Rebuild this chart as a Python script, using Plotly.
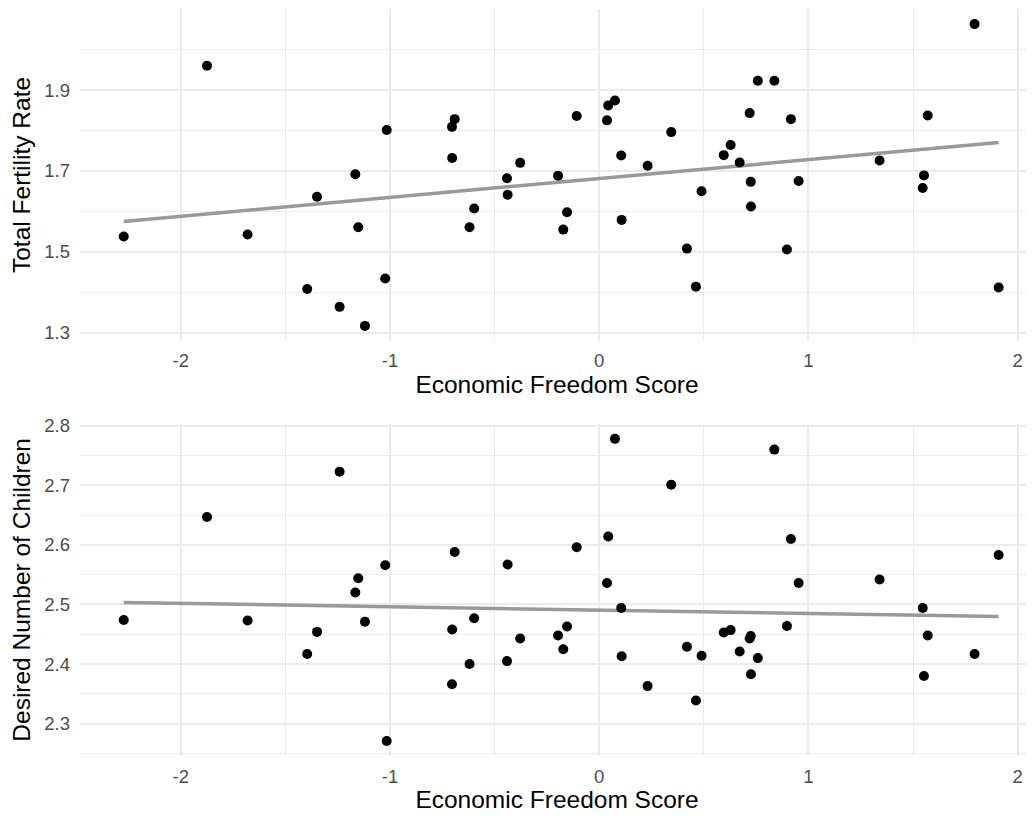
import numpy as np
import plotly.graph_objects as go
from plotly.subplots import make_subplots

# Economic freedom score (same countries in both panels)
econ_freedom = [-2.273, -1.875, -1.681, -1.396, -1.349, -1.241, -1.166, -1.152, -1.120, -1.023,
                -1.016, -0.704, -0.703, -0.691, -0.620, -0.598, -0.441, -0.438, -0.378, -0.197,
                -0.172, -0.154, -0.108, 0.037, 0.043, 0.075, 0.105, 0.107, 0.231, 0.344,
                0.419, 0.462, 0.489, 0.595, 0.628, 0.671, 0.719, 0.724, 0.725, 0.758,
                0.837, 0.897, 0.916, 0.953, 1.340, 1.546, 1.552, 1.570, 1.794, 1.909]

fertility_rate = [1.538, 1.960, 1.543, 1.408, 1.636, 1.364, 1.692, 1.561, 1.317, 1.434,
                  1.801, 1.809, 1.732, 1.828, 1.561, 1.607, 1.682, 1.641, 1.720, 1.688,
                  1.555, 1.598, 1.836, 1.825, 1.862, 1.874, 1.738, 1.579, 1.713, 1.796,
                  1.508, 1.414, 1.650, 1.739, 1.764, 1.721, 1.843, 1.673, 1.612, 1.923,
                  1.923, 1.506, 1.828, 1.675, 1.726, 1.658, 1.689, 1.837, 2.063, 1.412]

desired_children = [2.474, 2.647, 2.473, 2.417, 2.454, 2.723, 2.520, 2.544, 2.471, 2.566,
                    2.271, 2.366, 2.458, 2.588, 2.400, 2.477, 2.405, 2.567, 2.443, 2.448,
                    2.425, 2.463, 2.596, 2.536, 2.614, 2.778, 2.494, 2.413, 2.363, 2.701,
                    2.429, 2.339, 2.414, 2.453, 2.457, 2.421, 2.443, 2.447, 2.383, 2.410,
                    2.760, 2.464, 2.610, 2.536, 2.542, 2.494, 2.380, 2.448, 2.417, 2.583]

x_ticks = [-2, -1, 0, 1, 2]
x_tick_labels = ["-2", "-1", "0", "1", "2"]
top_y_ticks = [1.3, 1.5, 1.7, 1.9]
top_y_labels = ["1.3", "1.5", "1.7", "1.9"]
bottom_y_ticks = [2.3, 2.4, 2.5, 2.6, 2.7, 2.8]
bottom_y_labels = ["2.3", "2.4", "2.5", "2.6", "2.7", "2.8"]

X_TITLE = "Economic Freedom Score"
Y_TITLES = ["Total Fertility Rate", "Desired Number of Children"]

FONT = "Liberation Sans, Arial, Helvetica, sans-serif"
GRID = "#EBEBEB"

fig = make_subplots(rows=2, cols=1, vertical_spacing=0.0)

x = np.array(econ_freedom)
for row, yvals in enumerate([fertility_rate, desired_children], start=1):
    y = np.array(yvals)
    slope, intercept = np.polyfit(x, y, 1)
    xl = np.array([x.min(), x.max()])
    fig.add_trace(go.Scatter(x=xl, y=intercept + slope * xl, mode="lines",
                             line=dict(color="#999999", width=3.5),
                             showlegend=False, hoverinfo="skip"), row=row, col=1)
    fig.add_trace(go.Scatter(x=econ_freedom, y=yvals, mode="markers",
                             marker=dict(color="black", size=10),
                             showlegend=False), row=row, col=1)

axis_common = dict(showline=False, zeroline=False, ticks="", automargin=False,
                   gridcolor=GRID, gridwidth=2,
                   tickfont=dict(family=FONT, size=18.5, color="#4D4D4D"),
                   title_font=dict(family=FONT, size=24.5, color="black"))

fig.update_xaxes(**axis_common, range=[-2.482, 2.078], tickvals=x_ticks, ticktext=x_tick_labels,
                 minor=dict(dtick=0.5, tick0=0, showgrid=True, gridcolor=GRID, gridwidth=1),
                 title_text=X_TITLE, title_standoff=0, ticklabelstandoff=7)
fig.update_yaxes(**axis_common, ticklabelstandoff=9)

fig.update_yaxes(range=[1.2797, 2.1003], tickvals=top_y_ticks, ticktext=top_y_labels,
                 minor=dict(dtick=0.1, tick0=1.3, showgrid=True, gridcolor=GRID, gridwidth=1),
                 title_text=Y_TITLES[0], title_standoff=7, row=1, col=1)
fig.update_yaxes(range=[2.2457, 2.8034], tickvals=bottom_y_ticks, ticktext=bottom_y_labels,
                 minor=dict(dtick=0.05, tick0=2.3, showgrid=True, gridcolor=GRID, gridwidth=1),
                 title_text=Y_TITLES[1], title_standoff=7, row=2, col=1)

# The page body has an 8px margin, so the figure is 8px smaller than the window
fig.update_layout(
    width=1026, height=808,
    margin=dict(l=72, r=0, t=1, b=60),
    paper_bgcolor="white", plot_bgcolor="white",
    font=dict(family=FONT),
    yaxis=dict(domain=[0.5556, 1.0]),
    yaxis2=dict(domain=[0.0, 0.4448]),
)

fig.write_html("out.html")
